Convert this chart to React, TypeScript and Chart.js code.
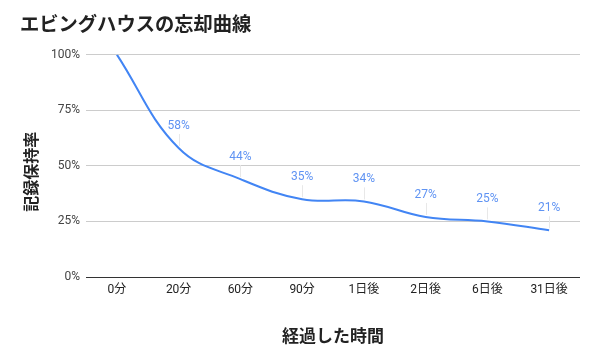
import React, { useEffect, useRef } from "react";
import { Chart, registerables } from "chart.js";

Chart.register(...registerables);

const categories = ["0分", "20分", "60分", "90分", "1日後", "2日後", "6日後", "31日後"];
const retention = [100, 58, 44, 35, 34, 27, 25, 21];
const yTicks = [0, 25, 50, 75, 100];
const chartTitle = "エビングハウスの忘却曲線";
const xTitle = "経過した時間";
const yTitle = "記録保持率";

const CJK = '"Noto Sans CJK JP", "Noto Sans", sans-serif';
const LATIN = 'Roboto, "Noto Sans CJK JP", sans-serif';

const dataLabelPlugin = {
  id: "dataLabels",
  afterDatasetsDraw(chart: any) {
    const { ctx } = chart;
    const meta = chart.getDatasetMeta(0);
    ctx.save();
    ctx.font = `12px ${LATIN}`;
    ctx.textAlign = "center";
    ctx.textBaseline = "middle";
    meta.data.forEach((pt: any, i: number) => {
      if (i === 0) return;
      const v = chart.data.datasets[0].data[i];
      const x = pt.x;
      const y = pt.y;
      const ly = y - 22;
      ctx.strokeStyle = "#e8e8e8";
      ctx.lineWidth = 1;
      ctx.beginPath();
      ctx.moveTo(Math.round(x) + 0.5, ly + 8);
      ctx.lineTo(Math.round(x) + 0.5, y - 2);
      ctx.stroke();
      ctx.fillStyle = "#5f93f3";
      ctx.fillText(`${v}%`, x, ly);
    });
    ctx.restore();
  },
};

const yTitlePlugin = {
  id: "yTitle",
  afterDraw(chart: any) {
    const { ctx, chartArea } = chart;
    ctx.save();
    ctx.font = `bold 16px ${CJK}`;
    ctx.fillStyle = "#222";
    ctx.textAlign = "center";
    ctx.textBaseline = "middle";
    ctx.translate(31, (chartArea.top + chartArea.bottom) / 2 + 6);
    ctx.rotate(-Math.PI / 2);
    ctx.fillText(yTitle, 0, 0);
    ctx.restore();
  },
};

export default function App() {
  const ref = useRef<HTMLCanvasElement | null>(null);
  useEffect(() => {
    if (!ref.current) return;
    const chart = new Chart(ref.current, {
      type: "line",
      data: {
        labels: categories,
        datasets: [
          {
            data: retention,
            borderColor: "#4285f4",
            borderWidth: 2,
            pointRadius: 0,
            tension: 0.4,
            fill: false,
          },
        ],
      },
      options: {
        responsive: false,
        animation: false,
        layout: { padding: { left: 20, right: 20, top: 0, bottom: 0 } },
        plugins: {
          legend: { display: false },
          tooltip: { enabled: false },
          title: {
            display: true,
            text: chartTitle,
            align: "start",
            color: "#222",
            font: { family: CJK, size: 19.3, weight: "bold" },
            padding: { top: 12, bottom: 19.5 },
          },
        },
        scales: {
          x: {
            type: "category",
            offset: true,
            grid: { display: false, drawTicks: false },
            border: { display: false },
            ticks: { color: "#222", font: { family: LATIN, size: 12 }, padding: 6, maxRotation: 0, autoSkip: false },
            title: {
              display: true,
              text: xTitle,
              color: "#222",
              font: { family: CJK, size: 17, weight: "bold" },
              padding: { top: 0, bottom: 18 },
            },
            afterFit: (s: any) => {
              s.height = 87;
            },
          },
          y: {
            min: 0,
            max: 100,
            afterBuildTicks: (s: any) => {
              s.ticks = yTicks.map((v) => ({ value: v }));
            },
            grid: {
              drawTicks: false,
              color: (c: any) => (c.tick && c.tick.value === 0 ? "#333" : "#cccccc"),
              lineWidth: 1,
            },
            border: { display: false },
            ticks: {
              color: "#444",
              font: { family: LATIN, size: 12 },
              padding: 6,
              callback: (v: any) => `${v}%`,
            },
            title: { display: false },
            afterFit: (s: any) => {
              s.width = 66;
            },
          },
        },
      },
      plugins: [dataLabelPlugin, yTitlePlugin],
    });
    return () => chart.destroy();
  }, []);
  return (
    <div style={{ position: "absolute", left: 0, top: 0, width: 600, height: 364, background: "#fff" }}>
      <canvas ref={ref} width={600} height={364} />
    </div>
  );
}
